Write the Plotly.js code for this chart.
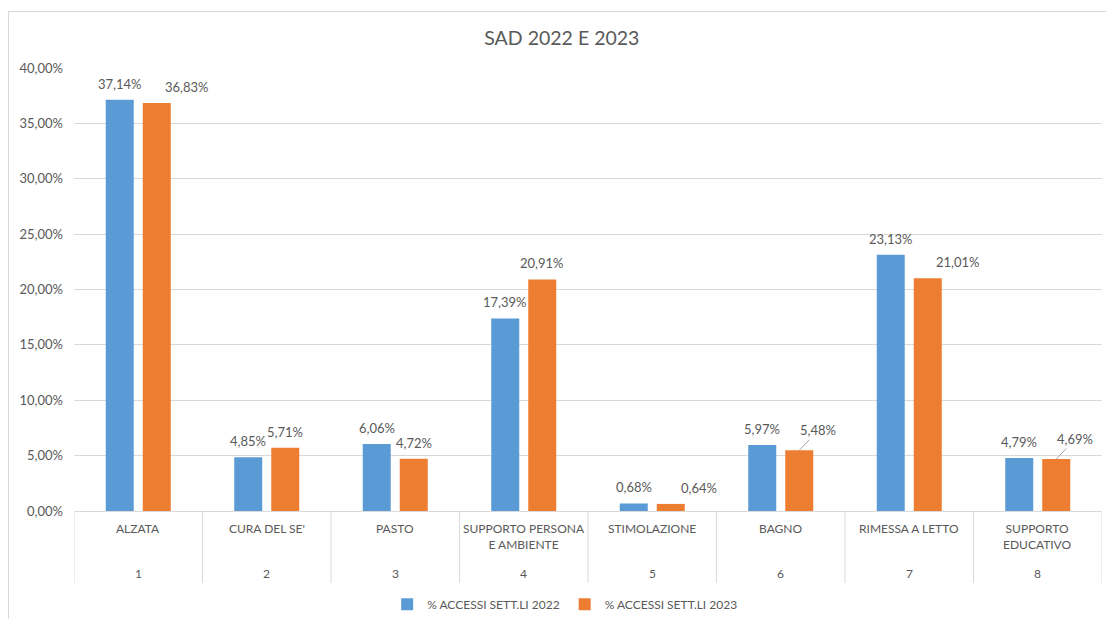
<!DOCTYPE html>
<html>
<head>
<meta charset="utf-8">
<script src="https://cdn.plot.ly/plotly-3.0.1.min.js"></script>
<style>
  html, body { margin: 0; padding: 0; background: #ffffff; }
  #frame { position: absolute; left: 8px; top: 11px; width: 1110px; height: 620px;
           border-left: 1px solid #d9d9d9; border-top: 1px solid #d9d9d9; box-sizing: border-box; }
  #chart { position: absolute; left: 0; top: 0; width: 1106px; height: 619px; }
</style>
</head>
<body>
<div id="frame"></div>
<div id="chart"></div>
<script>
// ---- data ----
const categories = ['ALZATA', "CURA DEL SE'", 'PASTO', 'SUPPORTO PERSONA E AMBIENTE', 'STIMOLAZIONE', 'BAGNO', 'RIMESSA A LETTO', 'SUPPORTO EDUCATIVO'];
const categoryLabels = ['ALZATA', "CURA DEL SE'", 'PASTO', 'SUPPORTO PERSONA<br>E AMBIENTE', 'STIMOLAZIONE', 'BAGNO', 'RIMESSA A LETTO', 'SUPPORTO<br>EDUCATIVO'];
const groupNumbers = ['1', '2', '3', '4', '5', '6', '7', '8'];
const values2022 = [0.3714, 0.0485, 0.0606, 0.1739, 0.0068, 0.0597, 0.2313, 0.0479];
const values2023 = [0.3683, 0.0571, 0.0472, 0.2091, 0.0064, 0.0548, 0.2101, 0.0469];
const seriesNames = ['% ACCESSI SETT.LI 2022', '% ACCESSI SETT.LI 2023'];

// ---- label placement (style, not data) ----
const leaderLabels2023 = ['BAGNO', 'SUPPORTO EDUCATIVO'];
const nudged2023 = { 'ALZATA': 30, 'STIMOLAZIONE': 28, 'RIMESSA A LETTO': 30 };

// ---- styling ----
const TXT = '#595959';
const GRID = '#d9d9d9';
const FONT = 'Lato, "Open Sans", sans-serif';
const BLUE = '#5B9BD5';
const ORANGE = '#ED7D31';
const FS = 13;
const fmt = v => (v * 100).toFixed(2).replace('.', ',') + '%';

const traces = [
  { type: 'bar', name: seriesNames[0], x: categories, y: values2022, marker: { color: BLUE }, hoverinfo: 'x+y' },
  { type: 'bar', name: seriesNames[1], x: categories, y: values2023, marker: { color: ORANGE }, hoverinfo: 'x+y' }
];

const annotations = [];
const shapes = [];
const SLOT = 18.5;
const lblFont = { family: FONT, size: FS, color: TXT };
const catFont = { family: FONT, size: 12, color: TXT };

categories.forEach((c, i) => {
  annotations.push({ x: c, xref: 'x', y: -0.018, yref: 'paper', yanchor: 'top', text: categoryLabels[i],
    showarrow: false, font: catFont });
  annotations.push({ x: c, xref: 'x', y: -0.14, yref: 'paper', yanchor: 'middle', text: groupNumbers[i],
    showarrow: false, font: catFont });
  annotations.push({ x: c, xref: 'x', y: values2022[i], yref: 'y', yanchor: 'bottom', xshift: -SLOT, yshift: 6,
    text: fmt(values2022[i]), showarrow: false, font: lblFont });
  if (leaderLabels2023.includes(c)) {
    annotations.push({ x: c, xref: 'x', y: values2023[i], yref: 'y', xshift: SLOT, ax: 19, ay: -20,
      text: fmt(values2023[i]), showarrow: true, arrowhead: 0, arrowwidth: 1, arrowcolor: '#a6a6a6', standoff: 0,
      font: lblFont });
  } else {
    annotations.push({ x: c, xref: 'x', y: values2023[i], yref: 'y', yanchor: 'bottom',
      xshift: SLOT + (nudged2023[c] || 0), yshift: 6,
      text: fmt(values2023[i]), showarrow: false, font: lblFont });
  }
});

for (let k = 0; k <= categories.length; k++) {
  shapes.push({ type: 'line', xref: 'x', yref: 'paper', x0: k - 0.5, x1: k - 0.5, y0: 0, y1: -0.1625,
    line: { color: GRID, width: 1 } });
}

const layout = {
  width: 1106, height: 619,
  margin: { l: 74, r: 4, t: 68, b: 108 },
  paper_bgcolor: 'rgba(0,0,0,0)',
  plot_bgcolor: 'rgba(0,0,0,0)',
  separators: ',.',
  font: { family: FONT, size: FS, color: TXT },
  title: { text: 'SAD 2022 E 2023', x: 0.508, xref: 'container', xanchor: 'center', y: 0.9386, yref: 'container', yanchor: 'middle',
    font: { family: FONT, size: 19.5, color: TXT } },
  barmode: 'group',
  bargap: 0.424,
  bargroupgap: 0.243,
  xaxis: { type: 'category', range: [-0.5, categories.length - 0.5], showticklabels: false, ticks: '',
    showgrid: false, showline: true, linecolor: GRID, linewidth: 1, zeroline: false, fixedrange: true },
  yaxis: { range: [0, 0.4], dtick: 0.05, tickformat: '.2%', showgrid: true, gridcolor: GRID, gridwidth: 1,
    zeroline: false, showline: false, ticks: '', ticklabelstandoff: 10,
    tickfont: { family: FONT, size: FS, color: TXT }, fixedrange: true },
  showlegend: true,
  legend: { orientation: 'h', xref: 'container', yref: 'container', x: 0.511, xanchor: 'center', y: 0.024, yanchor: 'middle',
    font: { family: FONT, size: 12, color: TXT }, itemwidth: 30, traceorder: 'normal' },
  annotations: annotations,
  shapes: shapes
};

Plotly.newPlot('chart', traces, layout, { displayModeBar: false, staticPlot: true });
</script>
</body>
</html>
